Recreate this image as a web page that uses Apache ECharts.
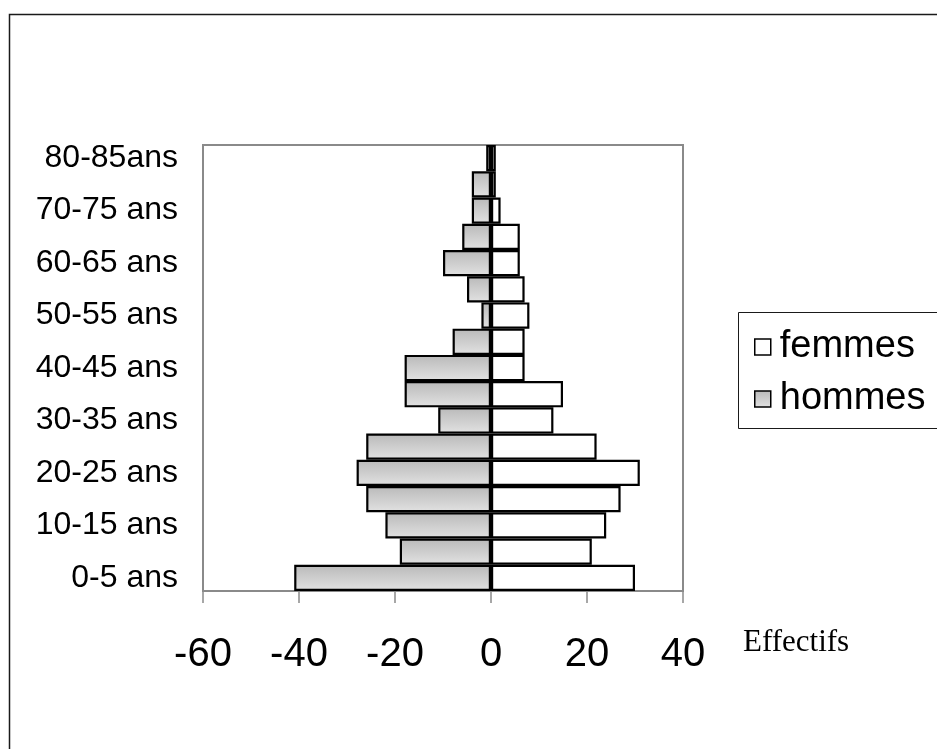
<!DOCTYPE html>
<html>
<head>
<meta charset="utf-8">
<script src="https://cdn.jsdelivr.net/npm/echarts@6/dist/echarts.min.js"></script>
<style>
html,body{margin:0;padding:0;background:#fff;}
#chart{width:937px;height:749px;}
</style>
</head>
<body>
<div id="chart"></div>
<script>
var categories = ['0-5 ans','5-10 ans','10-15 ans','15-20 ans','20-25 ans','25-30 ans','30-35 ans','35-40 ans','40-45 ans','45-50 ans','50-55 ans','55-60 ans','60-65 ans','65-70 ans','70-75 ans','75-80 ans','80-85ans'];
var hommes = [-41,-19,-22,-26,-28,-26,-11,-18,-18,-8,-2,-5,-10,-6,-4,-4,-1];
var femmes = [30,21,24,27,31,22,13,15,7,7,8,7,6,6,2,1,1];
var xTicks = {min:-60, max:40, interval:20};

var chart = echarts.init(document.getElementById('chart'), null, {renderer:'canvas'});
var grey = new echarts.graphic.LinearGradient(0,0,0,1,[{offset:0,color:'#b9b9b9'},{offset:1,color:'#e2e2e2'}]);
var option = {
  backgroundColor:'#fff',
  animation:false,
  grid:{left:203, top:145, width:480, height:446, show:true, borderColor:'#8a8a8a', borderWidth:2, containLabel:false},
  graphic:[
    {type:'rect', shape:{x:9.5,y:14.5,width:1000,height:800}, style:{fill:'none',stroke:'#1a1a1a',lineWidth:1.5}, silent:true, z:-10},
    {type:'rect', shape:{x:738.5,y:312.5,width:300,height:116}, style:{fill:'#fff',stroke:'#1a1a1a',lineWidth:1}, silent:true, z:5},
    {type:'text', left:743, top:627, style:{text:'Effectifs', font:'31px "Liberation Serif", "Times New Roman", serif', fill:'#000'}, z:10}
  ],
  legend:{
    orient:'vertical', left:749, top:322, itemGap:12, itemWidth:16, itemHeight:16, icon:'rect',
    data:['femmes','hommes'],
    itemStyle:{borderColor:'#000', borderWidth:1.5},
    textStyle:{fontFamily:'"Liberation Sans", Arial, sans-serif', fontSize:38, lineHeight:40, color:'#000', padding:[0,0,0,4]},
    z:20
  },
  xAxis:{
    type:'value', min:xTicks.min, max:xTicks.max, interval:xTicks.interval,
    axisLine:{show:true, lineStyle:{color:'#8a8a8a', width:2}},
    axisTick:{show:true, length:12, lineStyle:{color:'#8a8a8a', width:1.5}},
    axisLabel:{fontFamily:'"Liberation Sans", Arial, sans-serif', fontSize:40, color:'#000', margin:44},
    splitLine:{show:false}
  },
  yAxis:{
    type:'category', data:categories,
    axisLine:{show:true, onZero:false, lineStyle:{color:'#8a8a8a', width:2}},
    axisTick:{show:false},
    axisLabel:{interval:1, fontFamily:'"Liberation Sans", Arial, sans-serif', fontSize:32, color:'#000', margin:25},
    splitLine:{show:false}
  },
  series:[
    {name:'femmes', type:'bar', data:femmes, barGap:'-100%', barCategoryGap:0,
      itemStyle:{color:'#fff', borderColor:'#000', borderWidth:2.2}},
    {name:'hommes', type:'bar', data:hommes, barGap:'-100%', barCategoryGap:0,
      itemStyle:{color:grey, borderColor:'#000', borderWidth:2.2}}
  ]
};
chart.setOption(option);
</script>
</body>
</html>
